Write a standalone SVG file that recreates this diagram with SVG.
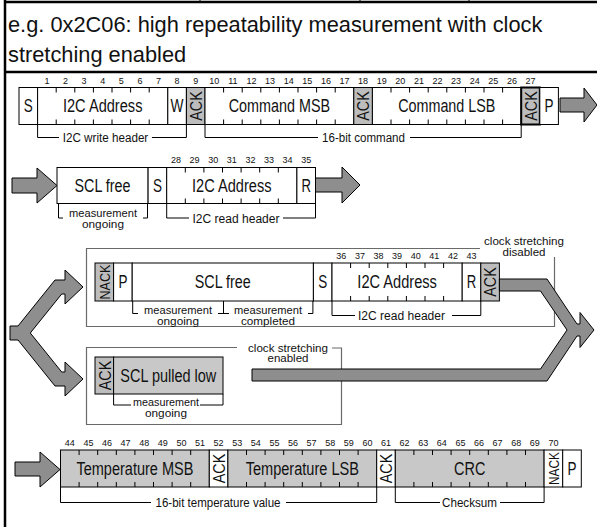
<svg xmlns="http://www.w3.org/2000/svg" width="597" height="527" viewBox="0 0 597 527">
<style>
.box{fill:#fff;stroke:#000;stroke-width:1}
.gbox{fill:#c8c8c8;stroke:#000;stroke-width:1}
.abox{fill:#bdbdbd;stroke:#000;stroke-width:1}
.tk{fill:none;stroke:#000;stroke-width:1}
.br{fill:none;stroke:#000;stroke-width:1}
.grp{fill:none;stroke:#6a6a6a;stroke-width:1.2}
.arr{fill:#8e8e8e;stroke:#000;stroke-width:1;stroke-linejoin:miter}
.frame{fill:none;stroke:#000;stroke-width:2.5}
text{font-family:"Liberation Sans Narrow","Liberation Sans",Arial,sans-serif;fill:#111;text-anchor:middle}
.lbl{font-size:17.5px}
.rot{font-size:17px}
.nk{font-size:15px}
.num{font-size:9px}
.sm{font-size:12.5px}
.two{font-size:11px}
.title{font-size:21.8px;text-anchor:start}
</style>

<g id="frame">
<path class="frame" d="M5,0 V527 M5,2 H597 M5,72 H597"/>
<path class="tk" d="M200,0 V3 M360,0 V3 M469,0 V3"/>
</g>

<g id="title">
<text class="title" x="8" y="32">e.g. 0x2C06: high repeatability measurement with clock</text>
<text class="title" x="8" y="62">stretching enabled</text>
</g>

<!-- Row 1 -->
<g id="row1">
<rect class="box" x="19" y="87.5" width="18.6" height="37"/>
<rect class="box" x="37.6" y="87.5" width="130.2" height="37"/>
<rect class="box" x="167.8" y="87.5" width="18.6" height="37"/>
<rect class="abox" x="186.4" y="87.5" width="18.6" height="37"/>
<rect class="box" x="205" y="87.5" width="148.8" height="37"/>
<rect class="abox" x="353.8" y="87.5" width="18.6" height="37"/>
<rect class="box" x="372.4" y="87.5" width="148.8" height="37"/>
<rect class="abox" x="521.2" y="87.5" width="18.6" height="37" style="stroke-width:2"/>
<rect class="box" x="539.8" y="87.5" width="18.6" height="37"/>
<path class="tk" d="M56.2,87.5v5M74.8,87.5v5M93.4,87.5v5M112,87.5v5M130.6,87.5v5M149.2,87.5v5M56.2,124.5v-5M74.8,124.5v-5M93.4,124.5v-5M112,124.5v-5M130.6,124.5v-5M149.2,124.5v-5
M223.6,87.5v5M242.2,87.5v5M260.8,87.5v5M279.4,87.5v5M298,87.5v5M316.6,87.5v5M335.2,87.5v5M223.6,124.5v-5M242.2,124.5v-5M260.8,124.5v-5M279.4,124.5v-5M298,124.5v-5M316.6,124.5v-5M335.2,124.5v-5
M391,87.5v5M409.6,87.5v5M428.2,87.5v5M446.8,87.5v5M465.4,87.5v5M484,87.5v5M502.6,87.5v5M391,124.5v-5M409.6,124.5v-5M428.2,124.5v-5M446.8,124.5v-5M465.4,124.5v-5M484,124.5v-5M502.6,124.5v-5"/>
<text class="lbl" x="28.3" y="112.3" textLength="9" lengthAdjust="spacingAndGlyphs">S</text>
<text class="lbl" x="102.7" y="112.3" textLength="79.5" lengthAdjust="spacingAndGlyphs">I2C Address</text>
<text class="lbl" x="177.1" y="112.3" textLength="13" lengthAdjust="spacingAndGlyphs">W</text>
<text class="rot" transform="translate(201.9,106) rotate(-90)" textLength="29.5" lengthAdjust="spacingAndGlyphs">ACK</text>
<text class="lbl" x="279.4" y="112.3" textLength="101.3" lengthAdjust="spacingAndGlyphs">Command MSB</text>
<text class="rot" transform="translate(369.3,106) rotate(-90)" textLength="29.5" lengthAdjust="spacingAndGlyphs">ACK</text>
<text class="lbl" x="446.8" y="112.3" textLength="97.3" lengthAdjust="spacingAndGlyphs">Command LSB</text>
<text class="rot" transform="translate(536.7,106) rotate(-90)" textLength="29.5" lengthAdjust="spacingAndGlyphs">ACK</text>
<text class="lbl" x="549.1" y="112.3" textLength="9" lengthAdjust="spacingAndGlyphs">P</text>
<g class="nums">
<text class="num" x="46.9" y="84">1</text><text class="num" x="65.5" y="84">2</text><text class="num" x="84.1" y="84">3</text><text class="num" x="102.7" y="84">4</text><text class="num" x="121.3" y="84">5</text><text class="num" x="139.9" y="84">6</text><text class="num" x="158.5" y="84">7</text><text class="num" x="177.1" y="84">8</text><text class="num" x="195.7" y="84">9</text><text class="num" x="214.3" y="84">10</text><text class="num" x="232.9" y="84">11</text><text class="num" x="251.5" y="84">12</text><text class="num" x="270.1" y="84">13</text><text class="num" x="288.7" y="84">14</text><text class="num" x="307.3" y="84">15</text><text class="num" x="325.9" y="84">16</text><text class="num" x="344.5" y="84">17</text><text class="num" x="363.1" y="84">18</text><text class="num" x="381.7" y="84">19</text><text class="num" x="400.3" y="84">20</text><text class="num" x="418.9" y="84">21</text><text class="num" x="437.5" y="84">22</text><text class="num" x="456.1" y="84">23</text><text class="num" x="474.7" y="84">24</text><text class="num" x="493.3" y="84">25</text><text class="num" x="511.9" y="84">26</text><text class="num" x="530.5" y="84">27</text>
</g>
<path class="br" d="M37.6,124.5V137.5H59M152,137.5H186.4V124.5M205,124.5V137.5H318M410,137.5H521.2V124.5"/>
<text class="sm" x="105.5" y="141.5" textLength="85.5" lengthAdjust="spacingAndGlyphs">I2C write header</text>
<text class="sm" x="363.5" y="141.5" textLength="83" lengthAdjust="spacingAndGlyphs">16-bit command</text>
</g>

<!-- Row 2 -->
<g id="row2">
<rect class="box" x="57" y="167.5" width="91.1" height="36"/>
<rect class="box" x="148.1" y="167.5" width="18.6" height="36"/>
<rect class="box" x="166.7" y="167.5" width="130.2" height="36"/>
<rect class="box" x="296.9" y="167.5" width="18.6" height="36"/>
<path class="tk" d="M185.3,167.5v5M203.9,167.5v5M222.5,167.5v5M241.1,167.5v5M259.7,167.5v5M278.3,167.5v5M185.3,203.5v-5M203.9,203.5v-5M222.5,203.5v-5M241.1,203.5v-5M259.7,203.5v-5M278.3,203.5v-5"/>
<text class="lbl" x="102.5" y="191.8" textLength="56" lengthAdjust="spacingAndGlyphs">SCL free</text>
<text class="lbl" x="157.4" y="191.8" textLength="9" lengthAdjust="spacingAndGlyphs">S</text>
<text class="lbl" x="231.8" y="191.8" textLength="79.5" lengthAdjust="spacingAndGlyphs">I2C Address</text>
<text class="lbl" x="306.2" y="191.8" textLength="9.5" lengthAdjust="spacingAndGlyphs">R</text>
<text class="num" x="176" y="163">28</text><text class="num" x="194.6" y="163">29</text><text class="num" x="213.2" y="163">30</text><text class="num" x="231.8" y="163">31</text><text class="num" x="250.4" y="163">32</text><text class="num" x="269" y="163">33</text><text class="num" x="287.6" y="163">34</text><text class="num" x="306.2" y="163">35</text>
<path class="br" d="M58.5,203.5V218H63M147.5,203.5V218H143M166.7,203.5V218H189M283,218H315.5V203.5"/>
<text class="two" x="103" y="216.5" textLength="68" lengthAdjust="spacingAndGlyphs">measurement</text>
<text class="two" x="103" y="227.5" textLength="42" lengthAdjust="spacingAndGlyphs">ongoing</text>
<text class="sm" x="236" y="222.5" textLength="87" lengthAdjust="spacingAndGlyphs">I2C read header</text>
</g>

<!-- Row 3: clock stretching disabled -->
<g id="row3">
<path class="grp" d="M480,248.5H86.5V326.5H554.5V257"/>
<text class="two" x="524" y="245" textLength="80" lengthAdjust="spacingAndGlyphs">clock stretching</text>
<text class="two" x="524" y="255.5" textLength="43" lengthAdjust="spacingAndGlyphs">disabled</text>
<rect class="abox" x="95" y="263" width="18.6" height="38"/>
<rect class="box" x="113.6" y="263" width="18.6" height="38"/>
<rect class="box" x="132.2" y="263" width="181.2" height="38"/>
<rect class="box" x="313.4" y="263" width="18.6" height="38"/>
<rect class="box" x="332" y="263" width="130.2" height="38"/>
<rect class="box" x="462.2" y="263" width="18.6" height="38"/>
<rect class="abox" x="480.8" y="263" width="18.6" height="38"/>
<path class="tk" d="M350.6,263v5M369.2,263v5M387.8,263v5M406.4,263v5M425,263v5M443.6,263v5M350.6,301v-5M369.2,301v-5M387.8,301v-5M406.4,301v-5M425,301v-5M443.6,301v-5"/>
<text class="nk" transform="translate(109.8,282) rotate(-90)" textLength="35" lengthAdjust="spacingAndGlyphs">NACK</text>
<text class="lbl" x="122.9" y="288.3" textLength="9" lengthAdjust="spacingAndGlyphs">P</text>
<text class="lbl" x="222.8" y="288.3" textLength="56" lengthAdjust="spacingAndGlyphs">SCL free</text>
<text class="lbl" x="322.7" y="288.3" textLength="9" lengthAdjust="spacingAndGlyphs">S</text>
<text class="lbl" x="397.1" y="288.3" textLength="79.5" lengthAdjust="spacingAndGlyphs">I2C Address</text>
<text class="lbl" x="471.5" y="288.3" textLength="9.5" lengthAdjust="spacingAndGlyphs">R</text>
<text class="rot" transform="translate(496.3,282) rotate(-90)" textLength="29.5" lengthAdjust="spacingAndGlyphs">ACK</text>
<text class="num" x="341.3" y="259">36</text><text class="num" x="359.9" y="259">37</text><text class="num" x="378.5" y="259">38</text><text class="num" x="397.1" y="259">39</text><text class="num" x="415.7" y="259">40</text><text class="num" x="434.3" y="259">41</text><text class="num" x="452.9" y="259">42</text><text class="num" x="471.5" y="259">43</text>
<path class="br" d="M132.7,301V313.5H138M223.5,301V313.5M218,313.5H229M312.9,301V313.5H308M332,301V315.5H355M452,315.5H480.8V301"/>
<text class="two" x="178" y="314" textLength="68" lengthAdjust="spacingAndGlyphs">measurement</text>
<text class="two" x="178" y="324.5" textLength="42" lengthAdjust="spacingAndGlyphs">ongoing</text>
<text class="two" x="268" y="314" textLength="68" lengthAdjust="spacingAndGlyphs">measurement</text>
<text class="two" x="268" y="324.5" textLength="54" lengthAdjust="spacingAndGlyphs">completed</text>
<text class="sm" x="401.5" y="320" textLength="87" lengthAdjust="spacingAndGlyphs">I2C read header</text>
</g>

<!-- Row 4: clock stretching enabled -->
<g id="row4">
<path class="grp" d="M237,347.5H86.5V424.5H341.5V348H332"/>
<text class="two" x="288" y="351.5" textLength="80" lengthAdjust="spacingAndGlyphs">clock stretching</text>
<text class="two" x="288" y="362" textLength="41" lengthAdjust="spacingAndGlyphs">enabled</text>
<rect class="abox" x="95" y="357" width="18.6" height="37"/>
<rect class="gbox" x="113.6" y="357" width="109.4" height="37"/>
<text class="rot" transform="translate(110.5,375.5) rotate(-90)" textLength="29.5" lengthAdjust="spacingAndGlyphs">ACK</text>
<text class="lbl" x="168.3" y="381.8" textLength="96" lengthAdjust="spacingAndGlyphs">SCL pulled low</text>
<path class="br" d="M113.6,394V405H131M200,405H223V394"/>
<text class="two" x="166" y="405.5" textLength="66" lengthAdjust="spacingAndGlyphs">measurement</text>
<text class="two" x="166" y="416.5" textLength="42" lengthAdjust="spacingAndGlyphs">ongoing</text>
</g>

<!-- Row 5 -->
<g id="row5">
<rect class="gbox" x="60.5" y="450" width="148.8" height="37"/>
<rect class="box" x="209.3" y="450" width="18.6" height="37"/>
<rect class="gbox" x="227.9" y="450" width="148.8" height="37"/>
<rect class="box" x="376.7" y="450" width="18.6" height="37"/>
<rect class="gbox" x="395.3" y="450" width="148.8" height="37"/>
<rect class="box" x="544.1" y="450" width="18.6" height="37"/>
<rect class="box" x="562.7" y="450" width="18.6" height="37"/>
<path class="tk" d="M79.1,450v5M97.7,450v5M116.3,450v5M134.9,450v5M153.5,450v5M172.1,450v5M190.7,450v5M79.1,487v-5M97.7,487v-5M116.3,487v-5M134.9,487v-5M153.5,487v-5M172.1,487v-5M190.7,487v-5
M246.5,450v5M265.1,450v5M283.7,450v5M302.3,450v5M320.9,450v5M339.5,450v5M358.1,450v5M246.5,487v-5M265.1,487v-5M283.7,487v-5M302.3,487v-5M320.9,487v-5M339.5,487v-5M358.1,487v-5
M413.9,450v5M432.5,450v5M451.1,450v5M469.7,450v5M488.3,450v5M506.9,450v5M525.5,450v5M413.9,487v-5M432.5,487v-5M451.1,487v-5M469.7,487v-5M488.3,487v-5M506.9,487v-5M525.5,487v-5"/>
<text class="lbl" x="134.9" y="474.8" textLength="117" lengthAdjust="spacingAndGlyphs">Temperature MSB</text>
<text class="rot" transform="translate(224.8,468.5) rotate(-90)" textLength="29.5" lengthAdjust="spacingAndGlyphs">ACK</text>
<text class="lbl" x="302.3" y="474.8" textLength="113.3" lengthAdjust="spacingAndGlyphs">Temperature LSB</text>
<text class="rot" transform="translate(392.2,468.5) rotate(-90)" textLength="29.5" lengthAdjust="spacingAndGlyphs">ACK</text>
<text class="lbl" x="469.7" y="474.8" textLength="31.3" lengthAdjust="spacingAndGlyphs">CRC</text>
<text class="nk" transform="translate(558.8,468.5) rotate(-90)" textLength="33" lengthAdjust="spacingAndGlyphs">NACK</text>
<text class="lbl" x="572" y="474.8" textLength="9" lengthAdjust="spacingAndGlyphs">P</text>
<text class="num" x="69.8" y="446">44</text><text class="num" x="88.4" y="446">45</text><text class="num" x="107" y="446">46</text><text class="num" x="125.6" y="446">47</text><text class="num" x="144.2" y="446">48</text><text class="num" x="162.8" y="446">49</text><text class="num" x="181.4" y="446">50</text><text class="num" x="200" y="446">51</text><text class="num" x="218.6" y="446">52</text><text class="num" x="237.2" y="446">53</text><text class="num" x="255.8" y="446">54</text><text class="num" x="274.4" y="446">55</text><text class="num" x="293" y="446">56</text><text class="num" x="311.6" y="446">57</text><text class="num" x="330.2" y="446">58</text><text class="num" x="348.8" y="446">59</text><text class="num" x="367.4" y="446">60</text><text class="num" x="386" y="446">61</text><text class="num" x="404.6" y="446">62</text><text class="num" x="423.2" y="446">63</text><text class="num" x="441.8" y="446">64</text><text class="num" x="460.4" y="446">65</text><text class="num" x="479" y="446">66</text><text class="num" x="497.6" y="446">67</text><text class="num" x="516.2" y="446">68</text><text class="num" x="534.8" y="446">69</text><text class="num" x="553.4" y="446">70</text>
<path class="br" d="M60.5,487V502.5H151M286,502.5H376.7V487M395.3,487V502.5H440M500,502.5H544.1V487"/>
<text class="sm" x="218" y="506.5" textLength="125" lengthAdjust="spacingAndGlyphs">16-bit temperature value</text>
<text class="sm" x="469.5" y="506.5" textLength="55" lengthAdjust="spacingAndGlyphs">Checksum</text>
</g>

<!-- Connectors (block arrows) -->
<g id="connectors">
<polygon class="arr" points="560,98 584,98 584,88 597,105 584,122 584,112 560,112"/>
<polygon class="arr" points="12,178 37,178 37,168 57,185.5 37,203 37,193 12,193"/>
<polygon class="arr" points="315.5,178 342,178 342,167 360,185 342,203 342,192 315.5,192"/>
<polygon class="arr" points="10,326 18,326 55,280 65,280 65,270 83,287 65,304 65,294 61.7,294 30.3,333 61.7,372 65,372 65,362 83,379 65,396 65,386 55,386 18,340 10,340"/>
<polygon class="arr" points="499.4,279 547,279 577,324 580,324 580,312.5 594,330 580,347.5 580,336 577,336 547,381 252,381 252,369 540.5,369 567,330 540.5,291 499.4,291"/>
<polygon class="arr" points="15,462 40,462 40,452 60,469.5 40,487 40,476 15,476"/>
</g>
</svg>
